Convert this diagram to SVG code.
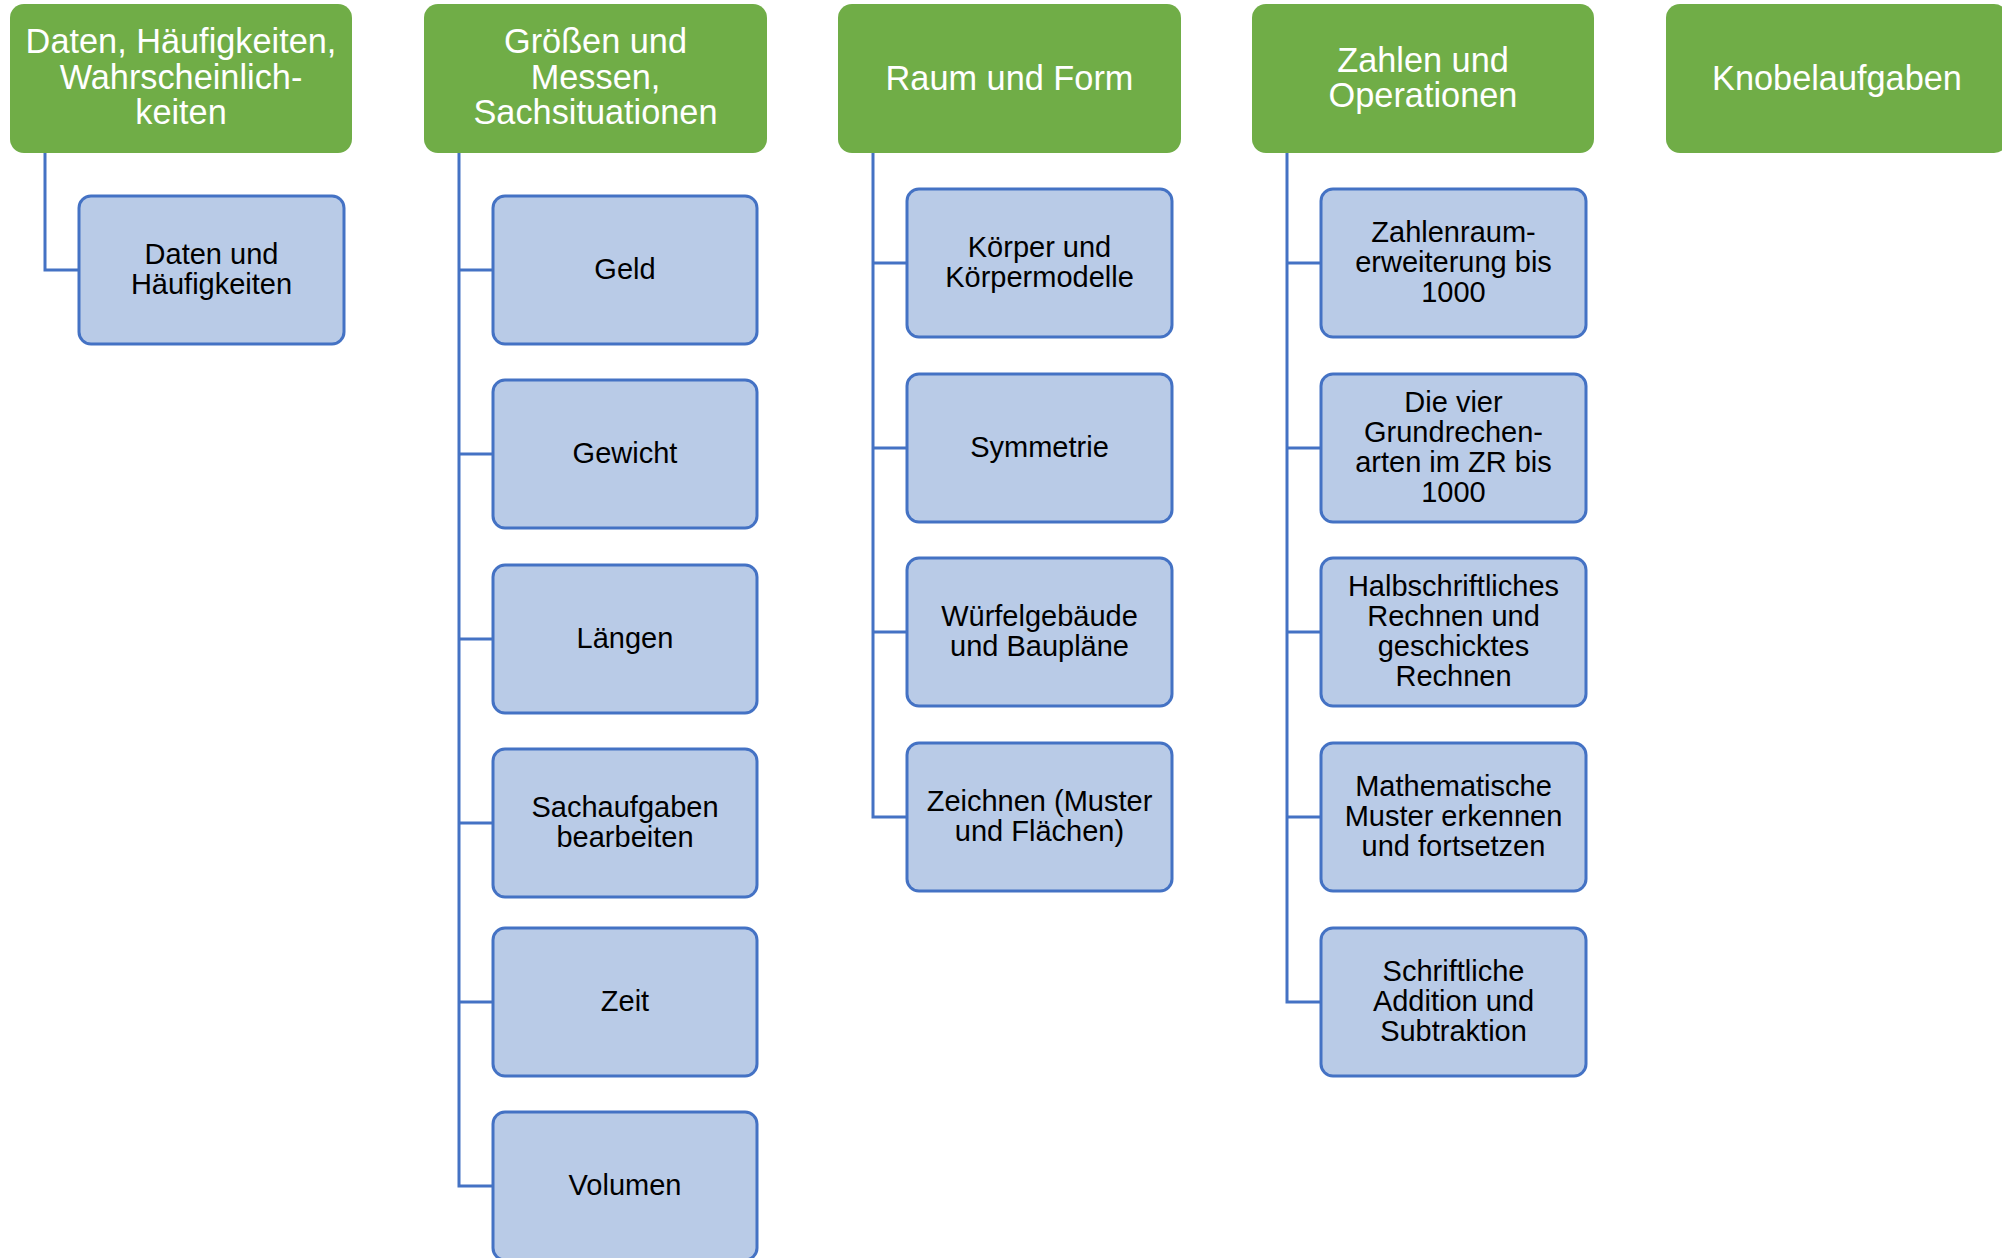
<svg xmlns="http://www.w3.org/2000/svg" width="2002" height="1258" viewBox="0 0 2002 1258">
<style>
.hd{fill:#70AD47;}
.ch{fill:#B9CBE7;stroke:#4472C4;stroke-width:3;}
.ht{font-family:"Liberation Sans",Arial,sans-serif;font-size:34.3px;fill:#FFFFFF;text-anchor:middle;}
.ct{font-family:"Liberation Sans",Arial,sans-serif;font-size:29px;fill:#000000;text-anchor:middle;}
.cn{fill:none;stroke:#4472C4;stroke-width:3;}
</style>
<rect width="2002" height="1258" fill="#FFFFFF"/>
<g id="connectors">
<path class="cn" d="M45,153 V270 H79"/>
<path class="cn" d="M459,153 V1186 H493 M459,270 H493 M459,454 H493 M459,639 H493 M459,823 H493 M459,1002 H493"/>
<path class="cn" d="M873,153 V817 H907 M873,263 H907 M873,448 H907 M873,632 H907"/>
<path class="cn" d="M1287,153 V1002 H1321 M1287,263 H1321 M1287,448 H1321 M1287,632 H1321 M1287,817 H1321"/>
</g>
<g id="h1"><rect class="hd" x="10" y="4" width="342" height="149" rx="14"/>
<text class="ht" x="181" y="53">Daten, Häufigkeiten,</text><text class="ht" x="181" y="89">Wahrscheinlich-</text><text class="ht" x="181" y="124">keiten</text></g>
<g id="h2"><rect class="hd" x="424" y="4" width="343" height="149" rx="14"/>
<text class="ht" x="595.5" y="53">Größen und</text><text class="ht" x="595.5" y="89">Messen,</text><text class="ht" x="595.5" y="124">Sachsituationen</text></g>
<g id="h3"><rect class="hd" x="838" y="4" width="343" height="149" rx="14"/>
<text class="ht" x="1009.5" y="90">Raum und Form</text></g>
<g id="h4"><rect class="hd" x="1252" y="4" width="342" height="149" rx="14"/>
<text class="ht" x="1423" y="72">Zahlen und</text><text class="ht" x="1423" y="107">Operationen</text></g>
<g id="h5"><rect class="hd" x="1666" y="4" width="342" height="149" rx="14"/>
<text class="ht" x="1837" y="90">Knobelaufgaben</text></g>

<g id="c1a"><rect class="ch" x="79" y="196" width="265" height="148" rx="12"/>
<text class="ct" x="211.5" y="264">Daten und</text><text class="ct" x="211.5" y="294">Häufigkeiten</text></g>

<g id="c2a"><rect class="ch" x="493" y="196" width="264" height="148" rx="12"/><text class="ct" x="625" y="279">Geld</text></g>
<g id="c2b"><rect class="ch" x="493" y="380" width="264" height="148" rx="12"/><text class="ct" x="625" y="463">Gewicht</text></g>
<g id="c2c"><rect class="ch" x="493" y="565" width="264" height="148" rx="12"/><text class="ct" x="625" y="648">Längen</text></g>
<g id="c2d"><rect class="ch" x="493" y="749" width="264" height="148" rx="12"/><text class="ct" x="625" y="817">Sachaufgaben</text><text class="ct" x="625" y="847">bearbeiten</text></g>
<g id="c2e"><rect class="ch" x="493" y="928" width="264" height="148" rx="12"/><text class="ct" x="625" y="1011">Zeit</text></g>
<g id="c2f"><rect class="ch" x="493" y="1112" width="264" height="148" rx="12"/><text class="ct" x="625" y="1195">Volumen</text></g>

<g id="c3a"><rect class="ch" x="907" y="189" width="265" height="148" rx="12"/><text class="ct" x="1039.5" y="257">Körper und</text><text class="ct" x="1039.5" y="287">Körpermodelle</text></g>
<g id="c3b"><rect class="ch" x="907" y="374" width="265" height="148" rx="12"/><text class="ct" x="1039.5" y="457">Symmetrie</text></g>
<g id="c3c"><rect class="ch" x="907" y="558" width="265" height="148" rx="12"/><text class="ct" x="1039.5" y="626">Würfelgebäude</text><text class="ct" x="1039.5" y="656">und Baupläne</text></g>
<g id="c3d"><rect class="ch" x="907" y="743" width="265" height="148" rx="12"/><text class="ct" x="1039.5" y="811">Zeichnen (Muster</text><text class="ct" x="1039.5" y="841">und Flächen)</text></g>

<g id="c4a"><rect class="ch" x="1321" y="189" width="265" height="148" rx="12"/><text class="ct" x="1453.5" y="242">Zahlenraum-</text><text class="ct" x="1453.5" y="272">erweiterung bis</text><text class="ct" x="1453.5" y="302">1000</text></g>
<g id="c4b"><rect class="ch" x="1321" y="374" width="265" height="148" rx="12"/><text class="ct" x="1453.5" y="412">Die vier</text><text class="ct" x="1453.5" y="442">Grundrechen-</text><text class="ct" x="1453.5" y="472">arten im ZR bis</text><text class="ct" x="1453.5" y="502">1000</text></g>
<g id="c4c"><rect class="ch" x="1321" y="558" width="265" height="148" rx="12"/><text class="ct" x="1453.5" y="596">Halbschriftliches</text><text class="ct" x="1453.5" y="626">Rechnen und</text><text class="ct" x="1453.5" y="656">geschicktes</text><text class="ct" x="1453.5" y="686">Rechnen</text></g>
<g id="c4d"><rect class="ch" x="1321" y="743" width="265" height="148" rx="12"/><text class="ct" x="1453.5" y="796">Mathematische</text><text class="ct" x="1453.5" y="826">Muster erkennen</text><text class="ct" x="1453.5" y="856">und fortsetzen</text></g>
<g id="c4e"><rect class="ch" x="1321" y="928" width="265" height="148" rx="12"/><text class="ct" x="1453.5" y="981">Schriftliche</text><text class="ct" x="1453.5" y="1011">Addition und</text><text class="ct" x="1453.5" y="1041">Subtraktion</text></g>
</svg>
